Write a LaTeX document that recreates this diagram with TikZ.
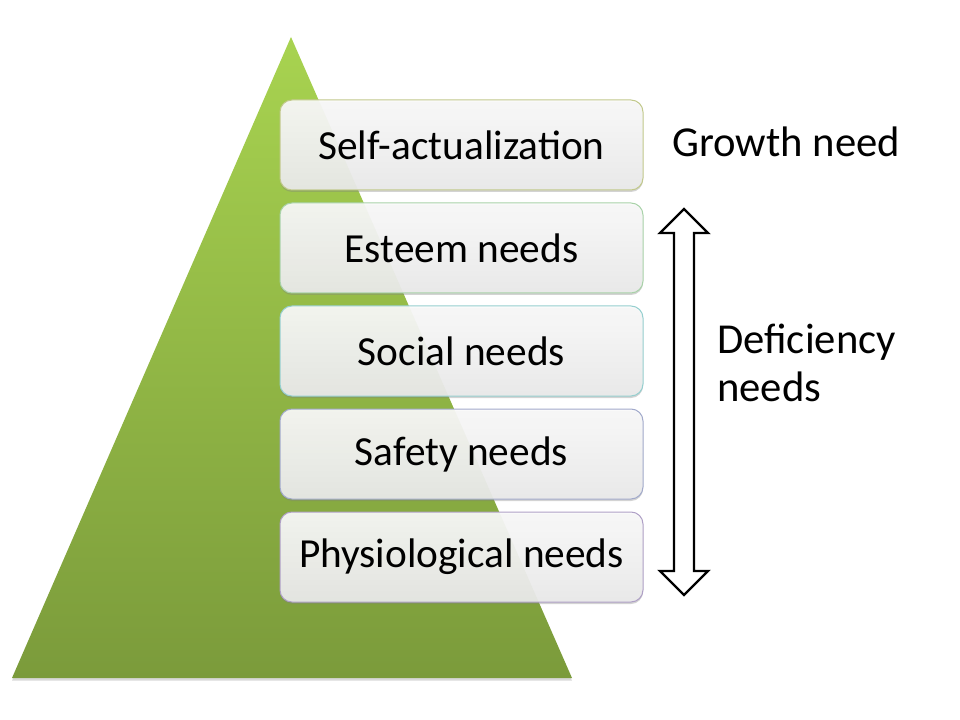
\documentclass[tikz,border=0pt]{standalone}
\usepackage{fontspec}
\setmainfont{Carlito}
\usetikzlibrary{positioning,shadows}

\definecolor{pyrtop}{HTML}{A8D350}
\definecolor{pyrbot}{HTML}{7B9B3B}
\definecolor{edgeA}{HTML}{C2C98C}
\definecolor{edgeB}{HTML}{A9D2A9}
\definecolor{edgeC}{HTML}{96CFCF}
\definecolor{edgeD}{HTML}{A2AACB}
\definecolor{edgeE}{HTML}{AFA0C6}

\begin{document}
\begin{tikzpicture}[
    x=0.75pt, y=-0.75pt,
    node distance=9pt,
    needbox/.style={draw, rounded corners=9pt, line width=0.75pt,
                    minimum width=272.25pt, minimum height=67.5pt, inner sep=0pt,
                    top color=white!98!black, bottom color=black!8,
                    fill opacity=0.93, text opacity=1,
                    drop shadow={shadow xshift=0pt, shadow yshift=-1.5pt, opacity=0.35},
                    font=\fontsize{31}{36}\selectfont},
    sidetext/.style={anchor=west, align=left, inner sep=0pt,
                     font=\fontsize{32}{36}\selectfont}
]
    \useasboundingbox (0,0) rectangle (960,720);

    % pyramid
    \path[top color=pyrtop, bottom color=pyrbot,
          drop shadow={shadow xshift=0pt, shadow yshift=-2pt, opacity=0.3}]
        (291,37) -- (572,678) -- (12,678) -- cycle;

    % levels
    \node[needbox, draw=edgeA] (selfact) at (461.5,145) {Self-actualization};
    \node[needbox, draw=edgeB, below=of selfact] (esteem) {Esteem needs};
    \node[needbox, draw=edgeC, below=of esteem] (social) {Social needs};
    \node[needbox, draw=edgeD, below=of social] (safety) {Safety needs};
    \node[needbox, draw=edgeE, below=of safety] (physio) {Physiological needs};

    % labels on the right
    \node[sidetext] (growth) at (672,142) {Growth need};
    \node[sidetext] (deficiency) at (717,363) {Deficiency\\needs};

    % double arrow
    \draw[line width=1.8pt, fill=white]
        (684,209) -- (708,233) -- (694,233) -- (694,571) -- (708,571)
        -- (684,595) -- (660,571) -- (674,571) -- (674,233) -- (660,233) -- cycle;
\end{tikzpicture}
\end{document}
